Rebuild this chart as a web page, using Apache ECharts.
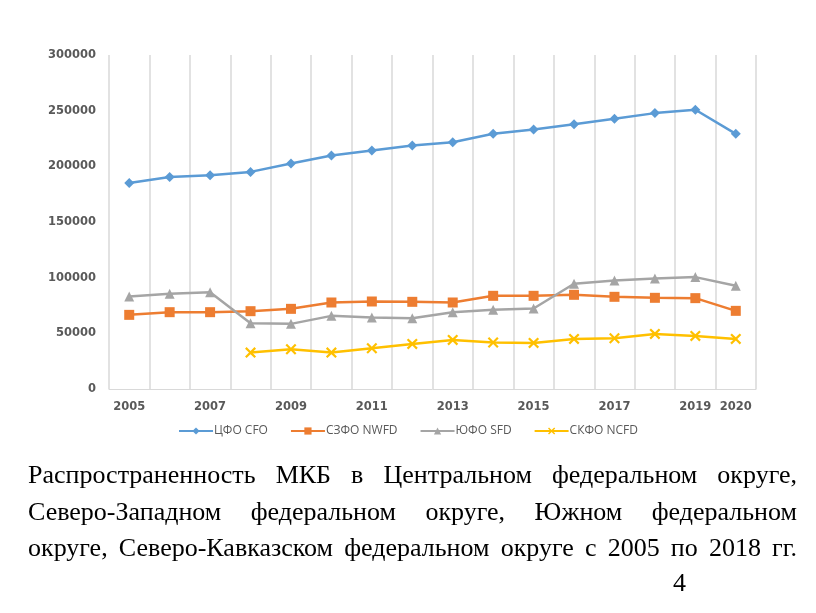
<!DOCTYPE html>
<html>
<head>
<meta charset="utf-8">
<script src="https://cdn.jsdelivr.net/npm/echarts@6/dist/echarts.min.js"></script>
<style>
html,body{margin:0;padding:0;background:#fff;}
#chart{position:absolute;left:0;top:0;width:816px;height:613px;}
#caption{position:absolute;left:28px;top:457px;width:769px;font-family:"Liberation Serif","Times New Roman",serif;font-size:26px;color:#000;}
#caption div{text-align:justify;text-align-last:justify;line-height:36.5px;white-space:nowrap;}
#pagenum{position:absolute;left:673px;top:570px;font-family:"Liberation Serif",serif;font-size:26px;line-height:26px;color:#000;}
</style>
</head>
<body>
<div id="chart"></div>
<div id="caption">
<div>Распространенность МКБ в Центральном федеральном округе,</div>
<div>Северо-Западном федеральном округе, Южном федеральном</div>
<div>округе, Северо-Кавказском федеральном округе с 2005 по 2018 гг.</div>
</div>
<div id="pagenum">4</div>
<script>
const years = ['2005','2006','2007','2008','2009','2010','2011','2012','2013','2014','2015','2016','2017','2018','2019','2020'];
const seriesNames = ['ЦФО CFO','СЗФО NWFD','ЮФО SFD','СКФО NCFD'];
const cfo  = [185100,190500,192000,195000,202500,209700,214200,218700,221700,229200,233100,237900,242700,247800,250800,229200];
const nwfd = [66600,69000,69000,69900,72000,77700,78600,78300,77700,83700,83700,84600,82800,81900,81600,70200];
const sfd  = [83100,85500,87000,59100,58500,65700,64200,63600,69000,71100,72300,94500,97500,99300,100500,92700];
const ncfd = [null,null,null,32700,35700,32700,36600,40500,44100,41700,41400,45000,45600,49500,47700,45000];
const yTicks = [0,50000,100000,150000,200000,250000,300000];

const colors = ['#5B9BD5','#ED7D31','#A5A5A5','#FFC000'];
const xSym = 'path://M0,1.4L1.4,0L5,3.6L8.6,0L10,1.4L6.4,5L10,8.6L8.6,10L5,6.4L1.4,10L0,8.6L3.6,5Z';
const symbols = ['diamond','rect','triangle',xSym];
const sizes = [10,10,10,11];
const datas = [cfo,nwfd,sfd,ncfd];

const chart = echarts.init(document.getElementById('chart'));
chart.setOption({
  animation:false,
  color:colors,
  grid:{left:109,right:60,top:55,bottom:224,containLabel:false},
  legend:{
    top:420,left:'center',
    itemWidth:34,itemHeight:9,itemGap:22,
    textStyle:{color:'#595959',fontSize:12,fontFamily:'Open Sans',padding:[0,0,0,-4]},
    data:seriesNames
  },
  xAxis:{
    type:'category',data:years,boundaryGap:true,
    axisLine:{lineStyle:{color:'#d9d9d9',width:1}},
    axisTick:{show:false},
    splitLine:{show:true,interval:0,lineStyle:{color:'#d9d9d9',width:1.5}},
    axisLabel:{
      interval:function(i){return i%2===0||i===years.length-1;},
      color:'#595959',fontSize:11.5,fontWeight:'bold',fontFamily:'DejaVu Sans',margin:12
    }
  },
  yAxis:{
    type:'value',min:yTicks[0],max:yTicks[yTicks.length-1],interval:50000,
    axisLine:{show:false},axisTick:{show:false},splitLine:{show:false},
    axisLabel:{color:'#595959',fontSize:11.5,fontWeight:'bold',fontFamily:'DejaVu Sans',margin:13,
      formatter:function(v){return String(v);}}
  },
  series:datas.map((d,i)=>({
    name:seriesNames[i],type:'line',data:d,
    symbol:symbols[i],symbolSize:sizes[i],showAllSymbol:true,
    lineStyle:{width:2.5,color:colors[i]},
    itemStyle:{color:colors[i]},
    connectNulls:false
  }))
});
</script>
</body>
</html>
